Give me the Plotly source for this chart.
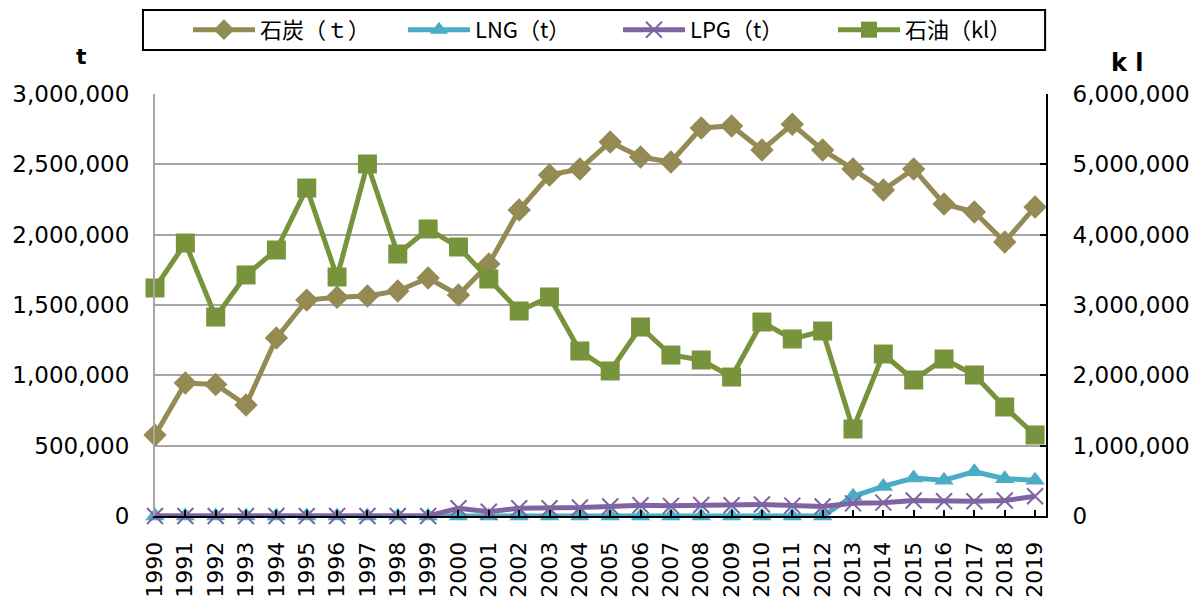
import plotly.graph_objects as go

years = list(range(1990, 2020))

coal_t = [575000, 945000, 935000, 789000, 1265000, 1535000, 1555000, 1564000, 1600000, 1692000,
          1571000, 1791000, 2175000, 2424000, 2467000, 2659000, 2552000, 2517000, 2758000, 2773000,
          2602000, 2785000, 2602000, 2467000, 2318000, 2467000, 2218000, 2161000, 1948000, 2197000]
lng_t = [0] * 23 + [140000, 210000, 270000, 255000, 315000, 265000, 255000]
lpg_t = [0] * 10 + [55000, 30000, 55000, 55000, 60000, 68000, 76000, 72000, 78000, 76000,
                    82000, 74000, 68000, 90000, 95000, 110000, 105000, 105000, 110000, 140000]
oil_kl = [3242000, 3881000, 2829000, 3427000, 3782000, 4663000, 3398000, 5005000, 3725000, 4081000,
          3825000, 3370000, 2915000, 3114000, 2346000, 2062000, 2687000, 2289000, 2218000, 1976000,
          2758000, 2517000, 2630000, 1237000, 2303000, 1934000, 2232000, 2005000, 1550000, 1152000]

COLORS = {"coal": "#948A54", "lng": "#4BACC6", "lpg": "#8064A2", "oil": "#77933C"}
TICK_FONT = dict(family="DejaVu Sans", size=23, color="black")

fig = go.Figure()
fig.add_trace(go.Scatter(x=years, y=coal_t, name="石炭（ｔ）", mode="lines+markers", cliponaxis=False,
                         line=dict(color=COLORS["coal"], width=5),
                         marker=dict(symbol="diamond", size=18, color=COLORS["coal"])))
fig.add_trace(go.Scatter(x=years, y=lng_t, name="LNG（t）", mode="lines+markers", cliponaxis=False,
                         line=dict(color=COLORS["lng"], width=5),
                         marker=dict(symbol="triangle-up", size=17, color=COLORS["lng"])))
fig.add_trace(go.Scatter(x=years, y=lpg_t, name="LPG（t）", mode="lines+markers", cliponaxis=False,
                         line=dict(color=COLORS["lpg"], width=5),
                         marker=dict(symbol="x-thin", size=16, line=dict(color=COLORS["lpg"], width=2))))
fig.add_trace(go.Scatter(x=years, y=oil_kl, name="石油（kl）", mode="lines+markers", yaxis="y2",
                         cliponaxis=False,
                         line=dict(color=COLORS["oil"], width=5),
                         marker=dict(symbol="square", size=19, color=COLORS["oil"])))

fig.update_layout(
    width=1193, height=598, template="plotly_white",
    paper_bgcolor="white", plot_bgcolor="white",
    margin=dict(l=155, r=147, t=94, b=82, autoexpand=False),
    showlegend=True,
    legend=dict(orientation="h", xref="container", yref="container",
                x=0.518, xanchor="center", y=0.95, yanchor="middle",
                font=dict(family="Noto Sans CJK JP", size=22, color="black"),
                bgcolor="rgba(0,0,0,0)", itemwidth=62, entrywidth=138, traceorder="normal"),
    xaxis=dict(range=[1990, 2019.36], tickvals=years, ticktext=[str(y) for y in years],
               tickangle=-90, tickfont=dict(family="DejaVu Sans", size=22, color="black"),
               showgrid=False, zeroline=False,
               showline=True, linecolor="black", linewidth=2, automargin=False,
               ticks="inside", ticklen=6, tickcolor="black", tickwidth=1.5, ticklabelstandoff=15),
    yaxis=dict(range=[0, 3000000], dtick=500000, tickformat=",", tickfont=TICK_FONT,
               showgrid=True, gridcolor="#A6A6A6", gridwidth=2, zeroline=False, automargin=False,
               showline=True, linecolor="#A6A6A6", linewidth=2, ticklabelstandoff=19),
    yaxis2=dict(range=[0, 6000000], dtick=1000000, tickformat=",", tickfont=TICK_FONT,
                overlaying="y", side="right", showgrid=False, zeroline=False, automargin=False,
                showline=True, linecolor="black", linewidth=2, ticklabelstandoff=20,
                ticks="inside", ticklen=6, tickcolor="black", tickwidth=1.5),
    shapes=[dict(type="rect", xref="paper", yref="paper",
                 x0=-0.0135, x1=0.999, y0=1.104, y1=1.199,
                 line=dict(color="black", width=2))],
    annotations=[
        dict(text="<b>t</b>", xref="paper", yref="paper", x=-0.082, y=1.088,
             xanchor="center", yanchor="middle", showarrow=False,
             font=dict(family="DejaVu Sans", size=22, color="black")),
        dict(text="<b>k l</b>", xref="paper", yref="paper", x=1.092, y=1.073,
             xanchor="center", yanchor="middle", showarrow=False,
             font=dict(family="DejaVu Sans", size=24, color="black")),
    ],
)

# drop the default page margin so the 1193x598 figure fills the window exactly
fig.write_html("out.html", config={"displayModeBar": False},
               post_script="document.body.style.margin='0';document.body.style.overflow='hidden';")
